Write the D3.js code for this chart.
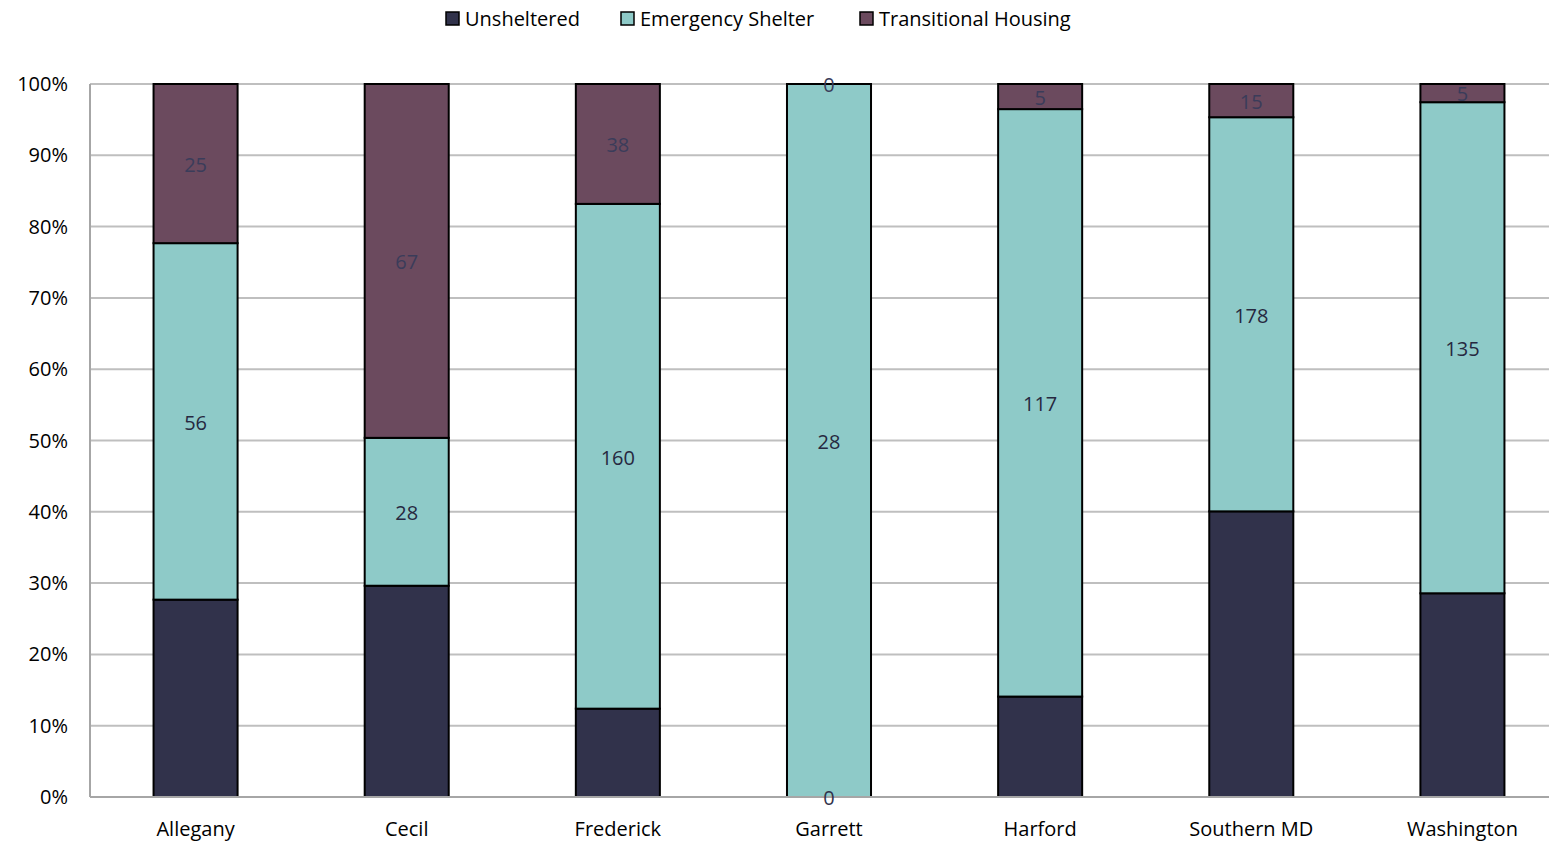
<!DOCTYPE html>
<html>
<meta charset="utf-8">
<style>
  body { margin: 0; background: #fff; }
  text { font-family: "Open Sans", "Noto Sans", sans-serif; }
  .grid line { stroke: #bfbfbf; stroke-width: 2; }
  .seg { stroke: #000; stroke-width: 2; }
</style>
<body>
<script src="https://d3js.org/d3.v7.min.js"></script>
<script>
  let width = 1549,
    height = 842;

  // data
  let categories = ["Allegany", "Cecil", "Frederick", "Garrett", "Harford", "Southern MD", "Washington"];
  let seriesNames = ["Unsheltered", "Emergency Shelter", "Transitional Housing"];
  let unsheltered = [31, 40, 28, 0, 20, 129, 56];
  let emergency = [56, 28, 160, 28, 117, 178, 135];
  let transitional = [25, 67, 38, 0, 5, 15, 5];
  let colors = ["#31324b", "#8ecac8", "#6b4a5e"];
  let labelColors = ["#31324b", "#262840", "#3a3c5a"];
  let yTicks = [0, 0.1, 0.2, 0.3, 0.4, 0.5, 0.6, 0.7, 0.8, 0.9, 1];

  let margin = { top: 84, right: 0, bottom: 45, left: 90 };

  let svg = d3.select("body").append("svg")
    .attr("width", width)
    .attr("height", height);

  // the plot area runs a bit past the right edge of the picture
  let x = d3.scaleBand()
    .domain(categories)
    .range([margin.left, 1568])
    .paddingInner(0.602)
    .paddingOuter(0.301);

  let y = d3.scaleLinear()
    .domain([0, 1])
    .range([height - margin.bottom, margin.top]);

  // gridlines
  svg.append("g")
    .attr("class", "grid")
    .selectAll("line")
    .data(yTicks)
    .join("line")
    .attr("x1", margin.left)
    .attr("x2", width - margin.right)
    .attr("y1", d => y(d))
    .attr("y2", d => y(d));

  // left axis line
  svg.append("line")
    .attr("x1", margin.left).attr("x2", margin.left)
    .attr("y1", y(1)).attr("y2", y(0))
    .attr("stroke", "#a6a6a6").attr("stroke-width", 2);

  // y tick labels
  svg.append("g")
    .selectAll("text")
    .data(yTicks)
    .join("text")
    .attr("x", 68)
    .attr("y", d => y(d))
    .attr("dy", "0.35em")
    .attr("text-anchor", "end")
    .attr("font-size", 20)
    .attr("fill", "#000")
    .text(d => d3.format(".0%")(d));

  let table = categories.map((c, i) => ({
    cat: c,
    "Unsheltered": unsheltered[i],
    "Emergency Shelter": emergency[i],
    "Transitional Housing": transitional[i]
  }));

  let stacked = d3.stack()
    .keys(seriesNames)
    .offset(d3.stackOffsetExpand)(table);

  svg.selectAll(".series")
    .data(stacked)
    .join("g")
    .attr("class", "series")
    .attr("fill", d => colors[d.index])
    .selectAll("rect")
    .data(d => d.filter(p => p[1] - p[0] > 0))
    .join("rect")
    .attr("class", "seg")
    .attr("x", d => x(d.data.cat))
    .attr("width", x.bandwidth())
    .attr("y", d => y(d[1]))
    .attr("height", d => y(d[0]) - y(d[1]));

  // bottom axis line
  svg.append("line")
    .attr("x1", margin.left).attr("x2", width - margin.right)
    .attr("y1", y(0)).attr("y2", y(0))
    .attr("stroke", "#a6a6a6").attr("stroke-width", 2);

  // value labels, on top of all bars
  let labels = svg.append("g");
  stacked.forEach(s => {
    labels.selectAll(null)
      .data(s)
      .join("text")
      .attr("x", d => x(d.data.cat) + x.bandwidth() / 2)
      .attr("y", d => y((d[0] + d[1]) / 2))
      .attr("dy", "0.42em")
      .attr("text-anchor", "middle")
      .attr("font-size", 20)
      .attr("fill", labelColors[s.index])
      .text(d => d.data[s.key]);
  });

  // x labels
  svg.append("g")
    .selectAll("text")
    .data(categories)
    .join("text")
    .attr("x", d => x(d) + x.bandwidth() / 2)
    .attr("y", 829)
    .attr("dy", "0.35em")
    .attr("text-anchor", "middle")
    .attr("font-size", 20)
    .attr("fill", "#000")
    .text(d => d);

  // legend
  let legendX = [446, 621, 860];
  let legend = svg.append("g")
    .selectAll("g")
    .data(seriesNames)
    .join("g")
    .attr("transform", (d, i) => `translate(${legendX[i]},12)`);

  legend.append("rect")
    .attr("width", 13).attr("height", 13)
    .attr("fill", (d, i) => colors[i])
    .attr("stroke", "#000").attr("stroke-width", 1.5);

  legend.append("text")
    .attr("x", 19)
    .attr("y", 7)
    .attr("dy", "0.35em")
    .attr("font-size", 20)
    .attr("fill", "#000")
    .text(d => d);
</script>
</body>
</html>
